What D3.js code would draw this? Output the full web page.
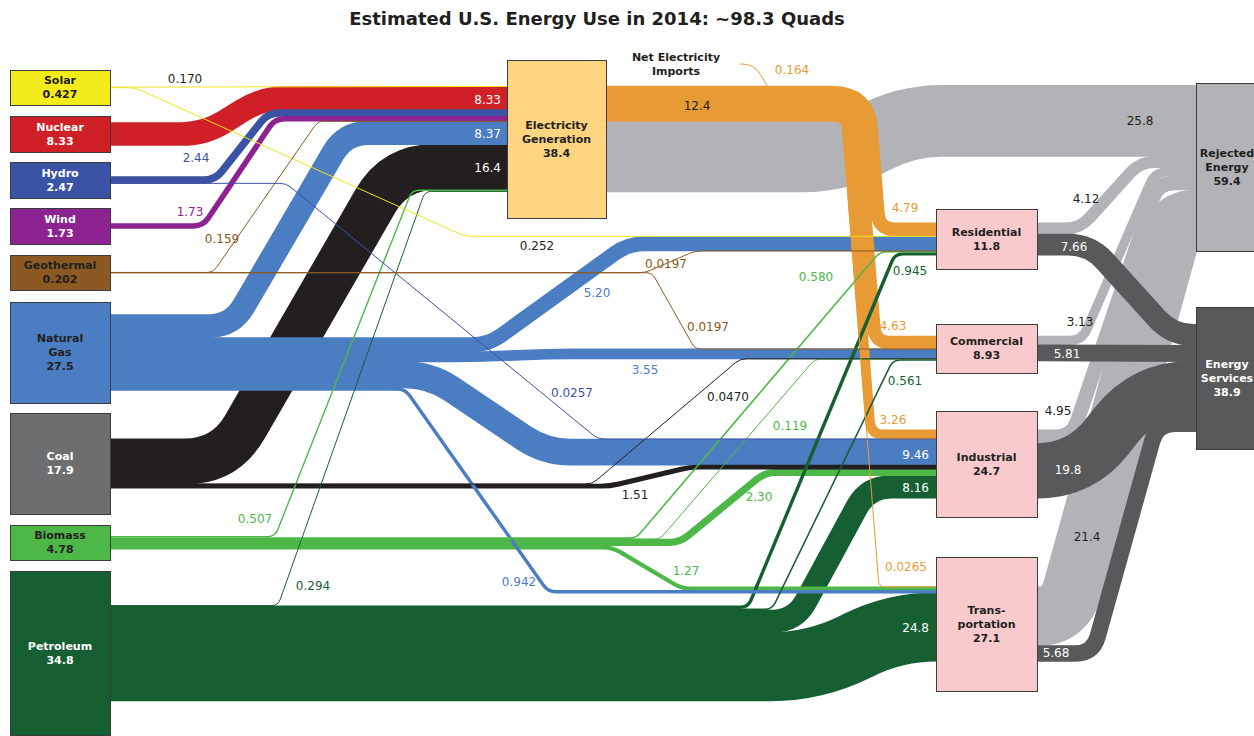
<!DOCTYPE html>
<html>
<head>
<meta charset="utf-8">
<script src="https://cdn.jsdelivr.net/npm/d3@7"></script>
<style>
  body { margin: 0; background: #fff; }
  text { font-family: "DejaVu Sans", sans-serif; }
</style>
</head>
<body>
<script>
var w = 1254;
var h = 736;

var title = "Estimated U.S. Energy Use in 2014: ~98.3 Quads";

// nodes and the totals printed in the boxes (quads)
var nodeNames = ["Solar", "Nuclear", "Hydro", "Wind", "Geothermal", "Natural Gas", "Coal", "Biomass", "Petroleum",
                 "Electricity Generation", "Residential", "Commercial", "Industrial", "Transportation",
                 "Rejected Energy", "Energy Services"];
var nodeTotals = [0.427, 8.33, 2.47, 1.73, 0.202, 27.5, 17.9, 4.78, 34.8, 38.4, 11.8, 8.93, 24.7, 27.1, 59.4, 38.9];

// flows: source, target, quads
var flows = [
    ["Solar", "Electricity Generation", 0.170],
    ["Solar", "Residential", 0.252],
    ["Nuclear", "Electricity Generation", 8.33],
    ["Hydro", "Electricity Generation", 2.44],
    ["Hydro", "Industrial", 0.0257],
    ["Wind", "Electricity Generation", 1.73],
    ["Geothermal", "Electricity Generation", 0.159],
    ["Geothermal", "Residential", 0.0197],
    ["Geothermal", "Commercial", 0.0197],
    ["Natural Gas", "Electricity Generation", 8.37],
    ["Natural Gas", "Residential", 5.20],
    ["Natural Gas", "Commercial", 3.55],
    ["Natural Gas", "Industrial", 9.46],
    ["Natural Gas", "Transportation", 0.942],
    ["Coal", "Electricity Generation", 16.4],
    ["Coal", "Commercial", 0.0470],
    ["Coal", "Industrial", 1.51],
    ["Biomass", "Electricity Generation", 0.507],
    ["Biomass", "Residential", 0.580],
    ["Biomass", "Commercial", 0.119],
    ["Biomass", "Industrial", 2.30],
    ["Biomass", "Transportation", 1.27],
    ["Petroleum", "Electricity Generation", 0.294],
    ["Petroleum", "Residential", 0.945],
    ["Petroleum", "Commercial", 0.561],
    ["Petroleum", "Industrial", 8.16],
    ["Petroleum", "Transportation", 24.8],
    ["Electricity Generation", "Residential", 4.79],
    ["Electricity Generation", "Commercial", 4.63],
    ["Electricity Generation", "Industrial", 3.26],
    ["Electricity Generation", "Transportation", 0.0265],
    ["Electricity Generation", "Rejected Energy", 25.8],
    ["Residential", "Rejected Energy", 4.12],
    ["Residential", "Energy Services", 7.66],
    ["Commercial", "Rejected Energy", 3.13],
    ["Commercial", "Energy Services", 5.81],
    ["Industrial", "Rejected Energy", 4.95],
    ["Industrial", "Energy Services", 19.8],
    ["Transportation", "Rejected Energy", 21.4],
    ["Transportation", "Energy Services", 5.68]
];

var elecOutTotal = 12.4;   // electricity delivered
var importsValue = 0.164;  // net electricity imports

// ---- layout (boxes: x, y, width, height) ----
var boxes = {
    "Solar": [10, 70, 100, 35],
    "Nuclear": [10, 116, 100, 36],
    "Hydro": [10, 162, 100, 36],
    "Wind": [10, 208, 100, 36],
    "Geothermal": [10, 255, 100, 35],
    "Natural Gas": [10, 302, 100, 101],
    "Coal": [10, 413, 100, 101],
    "Biomass": [10, 525, 100, 35],
    "Petroleum": [10, 571, 100, 164],
    "Electricity Generation": [507, 60, 99, 158],
    "Residential": [936, 209, 101, 60],
    "Commercial": [936, 324, 101, 49],
    "Industrial": [936, 411, 101, 106],
    "Transportation": [936, 557, 101, 134],
    "Rejected Energy": [1196, 83, 62, 168],
    "Energy Services": [1196, 307, 62, 142]
};

var boxLines = {
    "Natural Gas": ["Natural", "Gas"],
    "Electricity Generation": ["Electricity", "Generation"],
    "Transportation": ["Trans-", "portation"],
    "Rejected Energy": ["Rejected", "Energy"],
    "Energy Services": ["Energy", "Services"]
};

var boxFill = {
    "Solar": "#f3eb1c", "Nuclear": "#d02027", "Hydro": "#3a53a4", "Wind": "#8d2390",
    "Geothermal": "#8b5a22", "Natural Gas": "#4a7dc1", "Coal": "#6d6e70", "Biomass": "#4db848",
    "Petroleum": "#165f32", "Electricity Generation": "#fdd480", "Residential": "#f8cacc",
    "Commercial": "#f8cacc", "Industrial": "#f8cacc", "Transportation": "#f8cacc",
    "Rejected Energy": "#b2b3b6", "Energy Services": "#58595b"
};
var whiteText = ["Nuclear", "Hydro", "Wind", "Coal", "Petroleum", "Energy Services"];

var flowColor = {
    "Solar": "#f0e61a", "Nuclear": "#d02027", "Hydro": "#3a53a4", "Wind": "#8d2390",
    "Geothermal": "#8b5a22", "Natural Gas": "#4a7dc1", "Coal": "#231f20", "Biomass": "#4db848",
    "Petroleum": "#165f32", "Electricity Generation": "#e89b35"
};

// stacking order overrides (default: by the other node's vertical position)
var outOrder = {
    "Electricity Generation": ["Residential", "Commercial", "Industrial", "Transportation", "Rejected Energy"]
};
var inOrder = {
    "Residential": ["Electricity Generation", "Solar", "Natural Gas", "Geothermal", "Biomass", "Petroleum"],
    "Transportation": ["Electricity Generation", "Biomass", "Natural Gas", "Petroleum"]
};

// bend x positions: leave source level at first x, reach target level at second x
// (optional 3rd value: corner radius at the first bend)
var routes = {
    "Solar>Residential": [135, 465],
    "Nuclear>Electricity Generation": [205, 262],
    "Hydro>Electricity Generation": [215, 268],
    "Hydro>Industrial": [286, 598],
    "Wind>Electricity Generation": [203, 275],
    "Geothermal>Electricity Generation": [213, 318],
    "Geothermal>Residential": [645, 695],
    "Geothermal>Commercial": [652, 695],
    "Natural Gas>Electricity Generation": [232, 345],
    "Natural Gas>Residential": [488, 628],
    "Natural Gas>Commercial": [470, 560],
    "Natural Gas>Industrial": [430, 545],
    "Natural Gas>Transportation": [405, 548],
    "Coal>Electricity Generation": [225, 395],
    "Coal>Commercial": [592, 740],
    "Coal>Industrial": [610, 690],
    "Biomass>Electricity Generation": [275, 412],
    "Biomass>Residential": [636, 880],
    "Biomass>Commercial": [660, 815],
    "Biomass>Industrial": [680, 765],
    "Biomass>Transportation": [612, 682],
    "Petroleum>Electricity Generation": [278, 425],
    "Petroleum>Residential": [748, 895],
    "Petroleum>Commercial": [772, 893],
    "Petroleum>Industrial": [795, 868],
    "Petroleum>Transportation": [815, 895],
    "Electricity Generation>Residential": [868, 879, 36],
    "Electricity Generation>Commercial": [856, 875, 23],
    "Electricity Generation>Industrial": [846, 871, 12],
    "Electricity Generation>Transportation": [842, 879, 8],
    "Electricity Generation>Rejected Energy": [840, 905],
    "Residential>Rejected Energy": [1080, 1140],
    "Residential>Energy Services": [1090, 1172],
    "Commercial>Rejected Energy": [1082, 1155],
    "Industrial>Rejected Energy": [1072, 1158],
    "Industrial>Energy Services": [1080, 1145],
    "Transportation>Rejected Energy": [1065, 1175],
    "Transportation>Energy Services": [1093, 1157]
};

// value labels: x, y, anchor, colour style (c = flow colour, w = white, d = dark)
var labelPos = {
    "Solar>Electricity Generation": [185, 79, "middle", "d"],
    "Solar>Residential": [537, 246, "middle", "d"],
    "Nuclear>Electricity Generation": [501, 100, "end", "w"],
    "Hydro>Electricity Generation": [196, 158, "middle", "c"],
    "Hydro>Industrial": [572, 393, "middle", "c"],
    "Wind>Electricity Generation": [190, 212, "middle", "c"],
    "Geothermal>Electricity Generation": [222, 239, "middle", "c"],
    "Geothermal>Residential": [666, 264, "middle", "c"],
    "Geothermal>Commercial": [708, 327, "middle", "c"],
    "Natural Gas>Electricity Generation": [501, 134, "end", "w"],
    "Natural Gas>Residential": [597, 293, "middle", "c"],
    "Natural Gas>Commercial": [645, 370, "middle", "c"],
    "Natural Gas>Industrial": [929, 455, "end", "w"],
    "Natural Gas>Transportation": [519, 582, "middle", "c"],
    "Coal>Electricity Generation": [501, 168, "end", "w"],
    "Coal>Commercial": [728, 397, "middle", "c"],
    "Coal>Industrial": [635, 495, "middle", "c"],
    "Biomass>Electricity Generation": [255, 519, "middle", "c"],
    "Biomass>Residential": [816, 277, "middle", "c"],
    "Biomass>Commercial": [790, 426, "middle", "c"],
    "Biomass>Industrial": [759, 497, "middle", "c"],
    "Biomass>Transportation": [686, 571, "middle", "c"],
    "Petroleum>Electricity Generation": [313, 586, "middle", "c"],
    "Petroleum>Residential": [910, 271, "middle", "c"],
    "Petroleum>Commercial": [905, 381, "middle", "c"],
    "Petroleum>Industrial": [929, 488, "end", "w"],
    "Petroleum>Transportation": [929, 628, "end", "w"],
    "Electricity Generation>Residential": [905, 208, "middle", "c"],
    "Electricity Generation>Commercial": [893, 326, "middle", "c"],
    "Electricity Generation>Industrial": [893, 420, "middle", "c"],
    "Electricity Generation>Transportation": [906, 567, "middle", "c"],
    "Electricity Generation>Rejected Energy": [1140, 121, "middle", "d"],
    "Residential>Rejected Energy": [1086, 199, "middle", "d"],
    "Residential>Energy Services": [1074, 247, "middle", "w"],
    "Commercial>Rejected Energy": [1080, 322, "middle", "d"],
    "Commercial>Energy Services": [1067, 354, "middle", "w"],
    "Industrial>Rejected Energy": [1058, 411, "middle", "d"],
    "Industrial>Energy Services": [1068, 470, "middle", "w"],
    "Transportation>Rejected Energy": [1087, 537, "middle", "d"],
    "Transportation>Energy Services": [1056, 653, "middle", "w"]
};

var fmt = d3.format(".3r");
var dark = "#231f20";

var svg = d3.select("body")
            .append("svg")
            .attr("width", w)
            .attr("height", h);

// quads -> pixels of band thickness
var k = d3.scaleLinear().domain([0, 1]).range([0, 2.75]);

var nodes = {};
nodeNames.forEach(function(n, i) {
    var b = boxes[n];
    nodes[n] = {name: n, total: nodeTotals[i], x: b[0], y: b[1], w: b[2], h: b[3],
                cy: b[1] + b[3] / 2, outs: [], ins: []};
});

var links = flows.map(function(f) {
    var l = {s: f[0], t: f[1], v: f[2], w: k(f[2]), key: f[0] + ">" + f[1]};
    nodes[f[0]].outs.push(l);
    nodes[f[1]].ins.push(l);
    return l;
});

// stack each node's links, centred on the box
function stack(list, order, other) {
    if (order) {
        list.sort(function(a, b) { return order.indexOf(a[other]) - order.indexOf(b[other]); });
    } else {
        list.sort(function(a, b) { return nodes[a[other]].cy - nodes[b[other]].cy; });
    }
    return list;
}
Object.keys(nodes).forEach(function(n) {
    var nd = nodes[n];
    var outs = stack(nd.outs, outOrder[n], "t");
    var y = nd.cy - d3.sum(outs, function(l) { return l.w; }) / 2;
    outs.forEach(function(l) { l.sy = y + l.w / 2; y += l.w; });
    var ins = stack(nd.ins, inOrder[n], "s");
    y = nd.cy - d3.sum(ins, function(l) { return l.w; }) / 2;
    ins.forEach(function(l) { l.ty = y + l.w / 2; y += l.w; });
});

// polyline with rounded corners, via d3.path
function bandPath(pts, radii) {
    var p = d3.path();
    p.moveTo(pts[0][0], pts[0][1]);
    for (var i = 1; i < pts.length - 1; i++) {
        var a = pts[i - 1], b = pts[i], c = pts[i + 1];
        var l1 = Math.hypot(b[0] - a[0], b[1] - a[1]);
        var l2 = Math.hypot(c[0] - b[0], c[1] - b[1]);
        if (l1 < 0.01 || l2 < 0.01) { p.lineTo(b[0], b[1]); continue; }
        var m1 = i === 1 ? l1 : l1 / 2;
        var m2 = i === pts.length - 2 ? l2 : l2 / 2;
        var rr = Math.min(radii[i - 1], m1, m2);
        p.lineTo(b[0] - (b[0] - a[0]) / l1 * rr, b[1] - (b[1] - a[1]) / l1 * rr);
        p.quadraticCurveTo(b[0], b[1], b[0] + (c[0] - b[0]) / l2 * rr, b[1] + (c[1] - b[1]) / l2 * rr);
    }
    var e = pts[pts.length - 1];
    p.lineTo(e[0], e[1]);
    return p.toString();
}

function linkColor(l) {
    if (l.t === "Rejected Energy") return "#b2b3b6";
    if (l.t === "Energy Services") return "#58595b";
    return flowColor[l.s];
}

function layer(l) {
    if (l.t === "Rejected Energy") return 0;
    if (l.t === "Energy Services") return 1;
    if (l.v < 1) return 4;
    if (l.s === "Electricity Generation") return 3;
    return 2;
}

links.forEach(function(l) {
    var sn = nodes[l.s], tn = nodes[l.t];
    var x0 = sn.x + sn.w, x1 = tn.x;
    var pts = [[x0, l.sy]];
    var r = routes[l.key];
    var rad = l.w * 0.75 + 6;
    var radii = [rad, rad];
    if (r) {
        pts.push([r[0], l.sy]);
        pts.push([r[1], l.ty]);
        if (r[2] !== undefined) radii[0] = r[2];
    }
    pts.push([x1, l.ty]);
    l.d = bandPath(pts, radii);
});

var drawOrder = links.slice().sort(function(a, b) {
    return layer(a) - layer(b) || b.v - a.v;
});

// bands get a hair of overlap so neighbours don't show seams
svg.append("g")
    .selectAll("path")
    .data(drawOrder)
    .enter()
    .append("path")
    .attr("d", function(d) { return d.d; })
    .attr("fill", "none")
    .attr("stroke", linkColor)
    .attr("stroke-width", function(d) { return d.w > 2 ? d.w + 0.8 : Math.max(d.w, 1); });

// net electricity imports joining the delivered electricity band
var elecTop = d3.min(nodes["Electricity Generation"].outs, function(l) { return l.sy - l.w / 2; });
svg.append("path")
    .attr("d", bandPath([[740, 64], [754, 64], [768, elecTop + 1]], [12]))
    .attr("fill", "none")
    .attr("stroke", flowColor["Electricity Generation"])
    .attr("stroke-width", Math.max(k(importsValue), 1));

// boxes
var g = svg.append("g")
    .selectAll("g")
    .data(nodeNames.map(function(n) { return nodes[n]; }))
    .enter()
    .append("g");

g.append("rect")
    .attr("x", function(d) { return d.x + 0.5; })
    .attr("y", function(d) { return d.y + 0.5; })
    .attr("width", function(d) { return d.w; })
    .attr("height", function(d) { return d.h; })
    .attr("fill", function(d) { return boxFill[d.name]; })
    .attr("stroke", "#3c3c3c")
    .attr("stroke-width", 1);

g.each(function(d) {
    var lines = (boxLines[d.name] || [d.name]).concat([fmt(d.total)]);
    var cx = d.name === "Rejected Energy" || d.name === "Energy Services" ? d.x + 31 : d.x + d.w / 2;
    var y0 = d.cy - (lines.length - 1) * 14 / 2;
    d3.select(this).selectAll("text")
        .data(lines)
        .enter()
        .append("text")
        .text(function(t) { return t; })
        .attr("x", cx)
        .attr("y", function(t, i) { return y0 + i * 14; })
        .attr("dy", "0.35em")
        .attr("text-anchor", "middle")
        .attr("font-size", 11)
        .attr("font-weight", "bold")
        .attr("fill", whiteText.indexOf(d.name) >= 0 ? "#fff" : dark);
});

// value labels
svg.append("g")
    .selectAll("text")
    .data(links.filter(function(l) { return labelPos[l.key]; }))
    .enter()
    .append("text")
    .text(function(d) { return fmt(d.v); })
    .attr("x", function(d) { return labelPos[d.key][0]; })
    .attr("y", function(d) { return labelPos[d.key][1]; })
    .attr("dy", "0.35em")
    .attr("text-anchor", function(d) { return labelPos[d.key][2]; })
    .attr("font-size", 12)
    .attr("fill", function(d) {
        var s = labelPos[d.key][3];
        return s === "w" ? "#fff" : s === "d" ? dark : linkColor(d);
    });

svg.append("text")
    .text(fmt(elecOutTotal))
    .attr("x", 697).attr("y", 106).attr("dy", "0.35em")
    .attr("text-anchor", "middle").attr("font-size", 12).attr("fill", dark);

svg.append("text")
    .text(fmt(importsValue))
    .attr("x", 792).attr("y", 70).attr("dy", "0.35em")
    .attr("text-anchor", "middle").attr("font-size", 12).attr("fill", flowColor["Electricity Generation"]);

svg.selectAll(".imp")
    .data(["Net Electricity", "Imports"])
    .enter()
    .append("text")
    .text(function(d) { return d; })
    .attr("x", 676)
    .attr("y", function(d, i) { return 57 + i * 14; })
    .attr("dy", "0.35em")
    .attr("text-anchor", "middle")
    .attr("font-size", 11)
    .attr("font-weight", "bold")
    .attr("fill", dark);

// title
svg.append("text")
    .text(title)
    .attr("x", 597)
    .attr("y", 19)
    .attr("dy", "0.35em")
    .attr("text-anchor", "middle")
    .attr("font-size", 18)
    .attr("font-weight", "bold")
    .attr("fill", dark);
</script>
</body>
</html>
